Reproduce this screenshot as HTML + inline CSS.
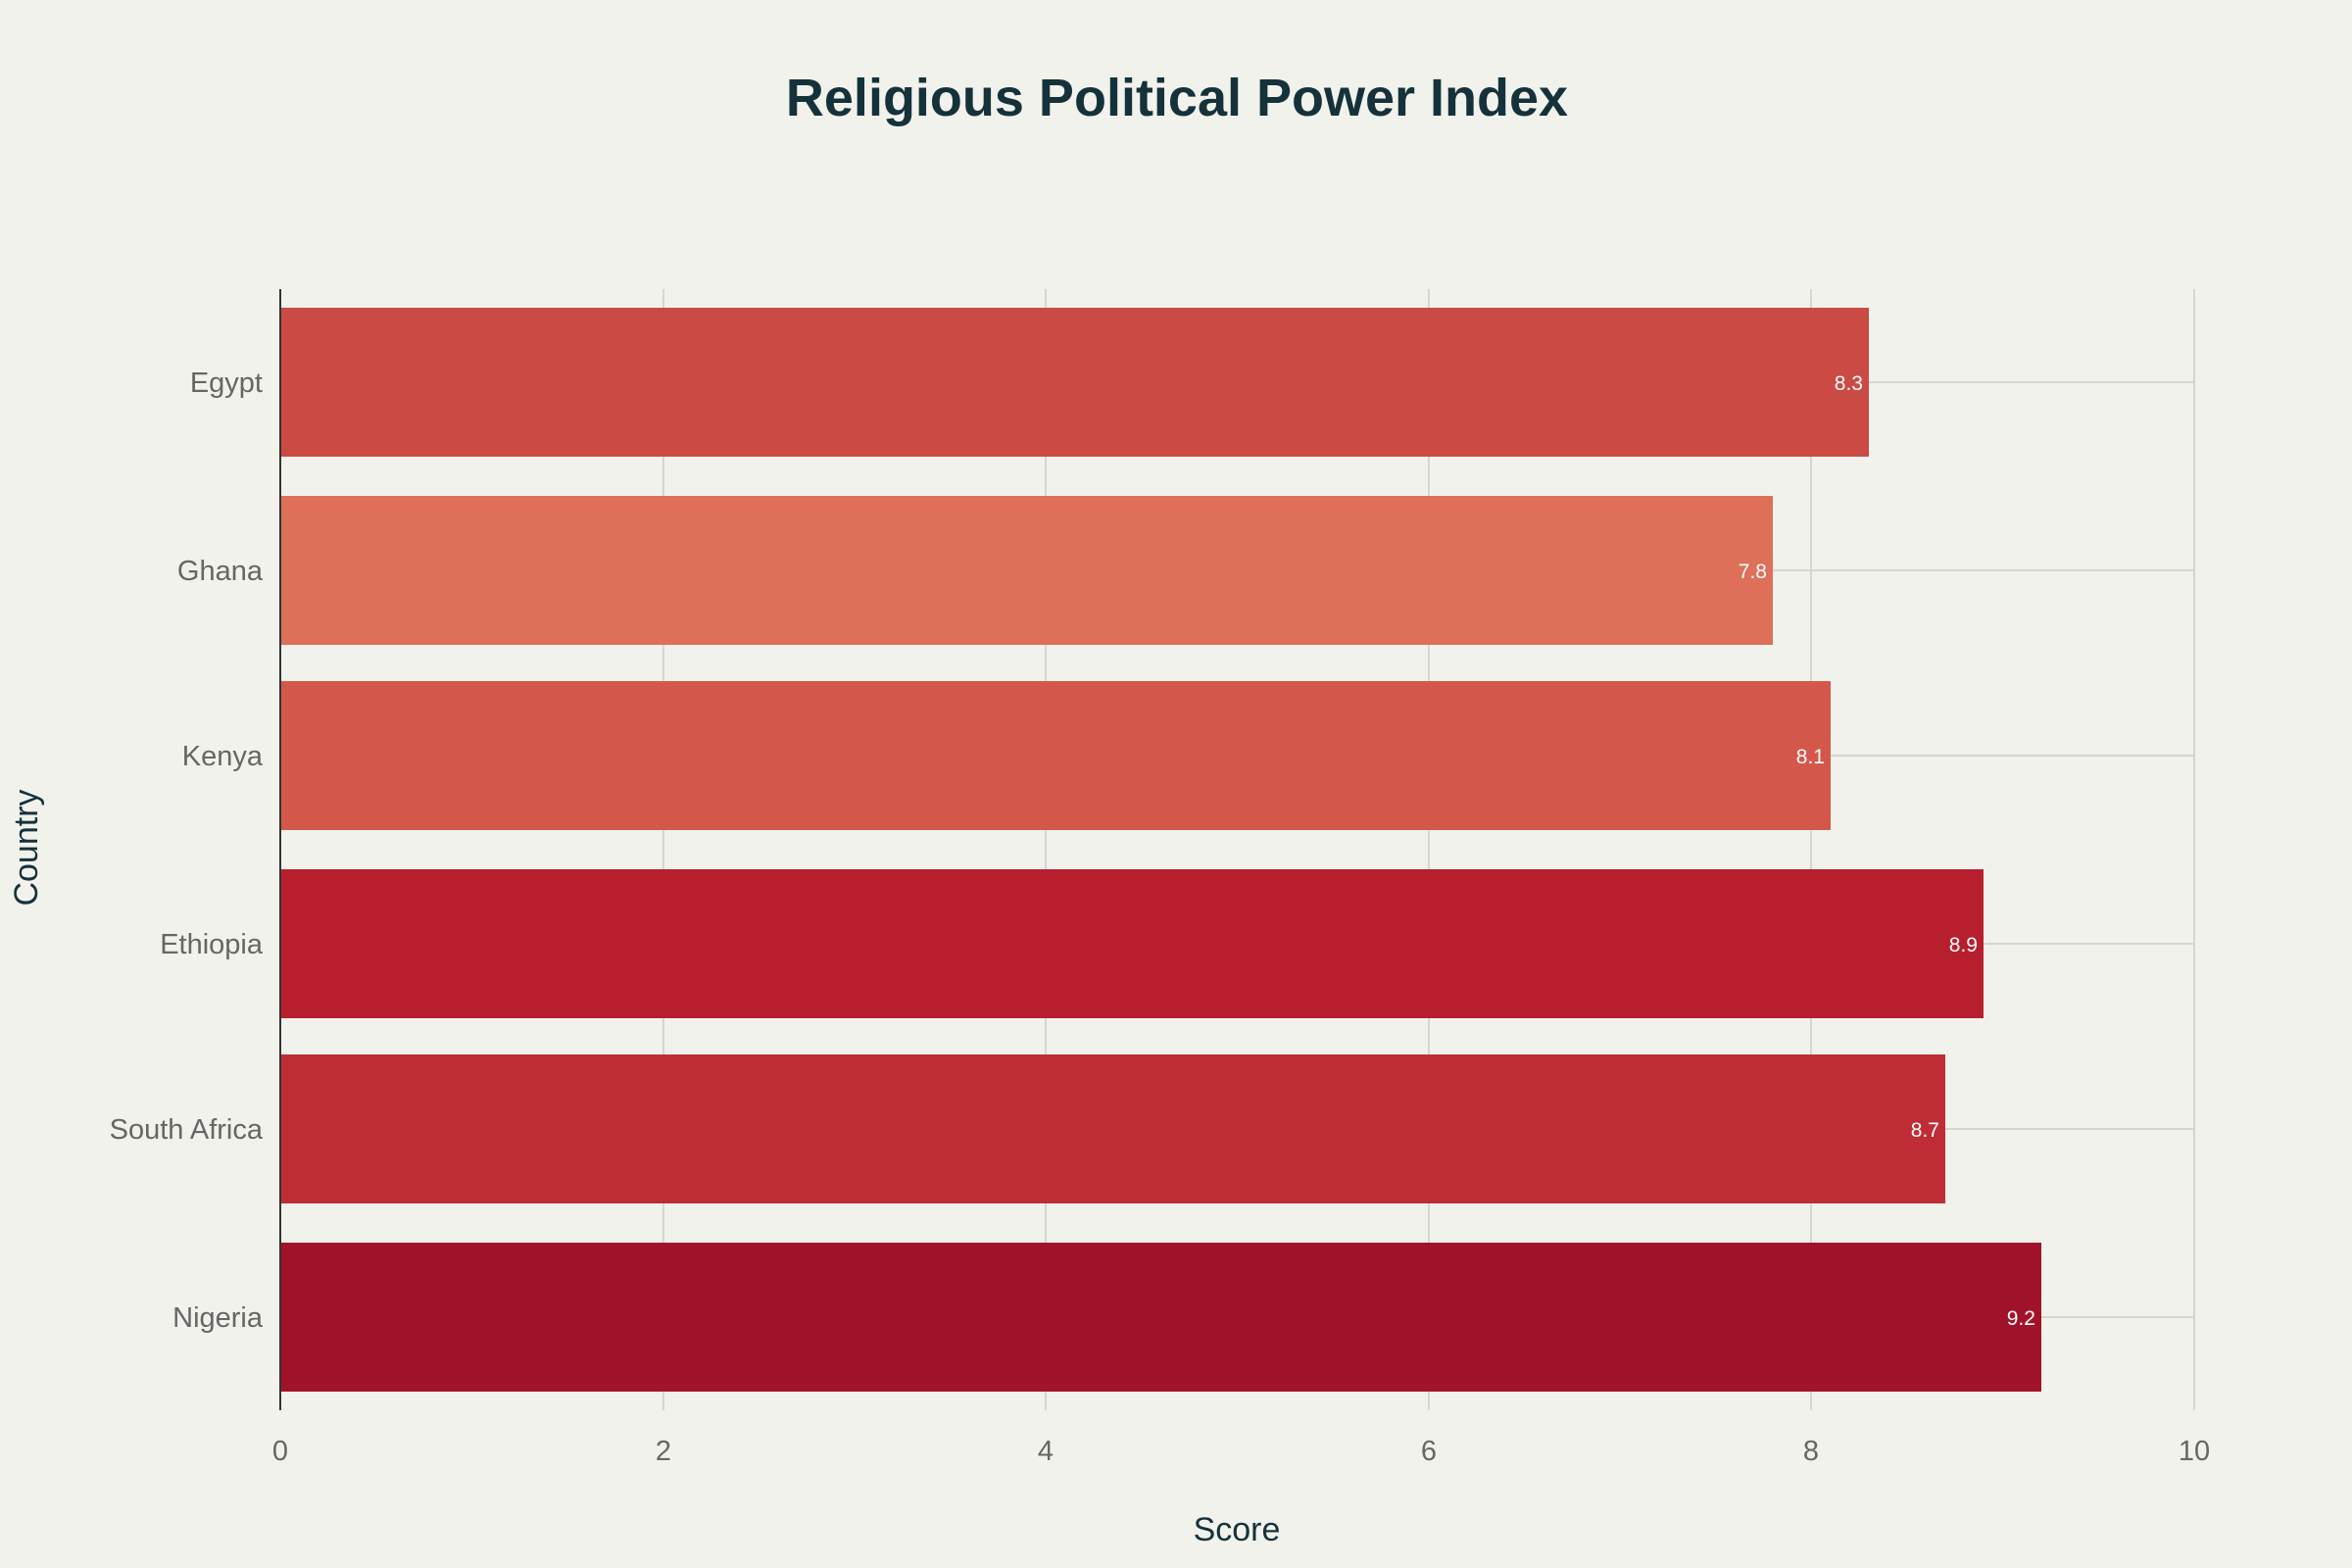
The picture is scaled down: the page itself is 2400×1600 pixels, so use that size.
<!DOCTYPE html>
<html><head><meta charset="utf-8"><style>
html,body{margin:0;padding:0;background:#F2F2EC;}
svg{display:block;font-family:"Liberation Sans",sans-serif;}
</style></head><body>
<svg width="2400" height="1600" viewBox="0 0 2400 1600">
<rect width="2400" height="1600" fill="#F2F2EC"/>
<text x="1201" y="118" text-anchor="middle" font-size="54" font-weight="bold" fill="#15323A">Religious Political Power Index</text>
<g stroke="#D6D6D0" stroke-width="2">
<line x1="677" y1="295" x2="677" y2="1439"/>
<line x1="1067" y1="295" x2="1067" y2="1439"/>
<line x1="1458" y1="295" x2="1458" y2="1439"/>
<line x1="1848" y1="295" x2="1848" y2="1439"/>
<line x1="2239" y1="295" x2="2239" y2="1439"/>
<line x1="286" y1="390" x2="2239" y2="390"/>
<line x1="286" y1="582" x2="2239" y2="582"/>
<line x1="286" y1="771" x2="2239" y2="771"/>
<line x1="286" y1="963" x2="2239" y2="963"/>
<line x1="286" y1="1152" x2="2239" y2="1152"/>
<line x1="286" y1="1344" x2="2239" y2="1344"/>
</g>
<rect x="286" y="314" width="1621" height="152" fill="#CB4A44"/>
<rect x="286" y="506" width="1523" height="152" fill="#DE6F58"/>
<rect x="286" y="695" width="1582" height="152" fill="#D4584A"/>
<rect x="286" y="887" width="1738" height="152" fill="#B71F2E"/>
<rect x="286" y="1076" width="1699" height="152" fill="#BE2D36"/>
<rect x="286" y="1268" width="1797" height="152" fill="#A1132B"/>
<g fill="#fff" font-size="21" text-anchor="end">
<text x="1901" y="398">8.3</text>
<text x="1803" y="590">7.8</text>
<text x="1862" y="779">8.1</text>
<text x="2018" y="971">8.9</text>
<text x="1979" y="1160">8.7</text>
<text x="2077" y="1352">9.2</text>
</g>
<line x1="286" y1="295" x2="286" y2="1439" stroke="#333" stroke-width="2"/>
<g fill="#666" font-size="29" text-anchor="end">
<text x="268" y="400">Egypt</text>
<text x="268" y="592">Ghana</text>
<text x="268" y="781">Kenya</text>
<text x="268" y="973">Ethiopia</text>
<text x="268" y="1162">South Africa</text>
<text x="268" y="1354">Nigeria</text>
</g>
<g fill="#666" font-size="29" text-anchor="middle">
<text x="286" y="1490">0</text>
<text x="677" y="1490">2</text>
<text x="1067" y="1490">4</text>
<text x="1458" y="1490">6</text>
<text x="1848" y="1490">8</text>
<text x="2239" y="1490">10</text>
</g>
<text x="1262" y="1572" text-anchor="middle" font-size="34" fill="#15323A">Score</text>
<text transform="translate(38,865) rotate(-90)" text-anchor="middle" font-size="34" fill="#15323A">Country</text>
</svg>
</body></html>
